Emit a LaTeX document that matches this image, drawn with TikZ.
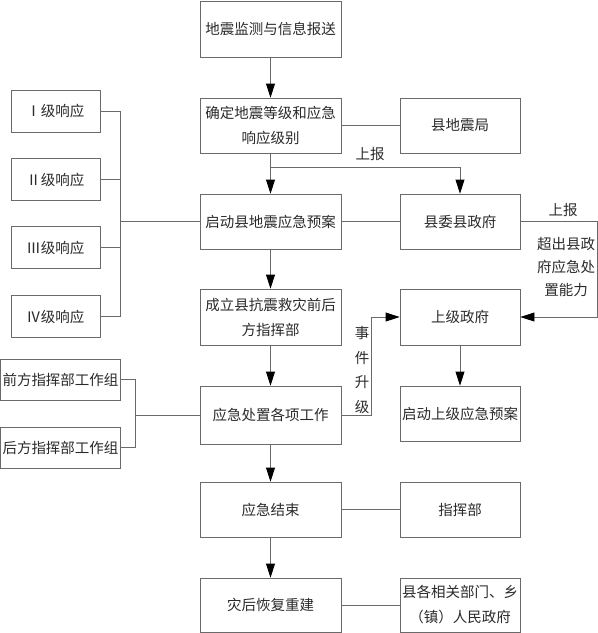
\documentclass[tikz,border=0pt]{standalone}
\usepackage{fontspec}
\setmainfont{Noto Sans CJK SC}
\usetikzlibrary{arrows.meta}
\definecolor{linec}{HTML}{6A6A6A}
\definecolor{textc}{HTML}{2A2A2A}
\tikzset{
  box/.style={draw=linec, line width=0.8pt, rectangle, inner sep=2pt, align=center,
    text=textc, font=\fontsize{14.5}{25}\selectfont},
  mainbox/.style={box, minimum width=141pt, minimum height=55pt},
  sidebox/.style={box, minimum width=120pt, minimum height=55pt},
  lvlbox/.style={box, minimum width=89pt, minimum height=42pt},
  grpbox/.style={box, minimum width=119pt, minimum height=41pt},
  conn/.style={draw=linec, line width=0.8pt},
  arr/.style={conn, -{Triangle[width=9pt,length=14pt,fill=black,color=black]}},
  lbl/.style={text=textc, font=\fontsize{14.5}{23}\selectfont, align=center, inner sep=0pt}
}
\begin{document}
\begin{tikzpicture}[x=1pt,y=-1pt]
\useasboundingbox (0,0) rectangle (598,633);
% main column
\node[mainbox, minimum height=56pt] (b1) at (270.5,29) {地震监测与信息报送};
\node[mainbox] (b2) at (270.5,125.5) {确定地震等级和应急\\响应级别};
\node[mainbox] (b3) at (270.5,221.5) {启动县地震应急预案};
\node[mainbox, minimum height=56pt] (b4) at (270.5,317) {成立县抗震救灾前后\\方指挥部};
\node[mainbox, minimum height=58pt] (b5) at (270.5,415) {应急处置各项工作};
\node[mainbox] (b6) at (270.5,509.5) {应急结束};
\node[mainbox, minimum height=54pt] (b7) at (270.5,605) {灾后恢复重建};
% right column
\node[sidebox] (dzj) at (460,125.5) {县地震局};
\node[sidebox] (xw) at (460,221.5) {县委县政府};
\node[sidebox, minimum height=56pt] (sj) at (460,317) {上级政府};
\node[sidebox] (qdsj) at (460,413.5) {启动上级应急预案};
\node[sidebox] (zhb) at (460,509.5) {指挥部};
\node[sidebox, minimum height=54pt] (xg) at (460,605) {县各相关部门、乡\\（镇）人民政府};
% left levels
\node[lvlbox] (l1) at (55.5,111) {Ⅰ级响应};
\node[lvlbox] (l2) at (55.5,179.5) {Ⅱ级响应};
\node[lvlbox] (l3) at (55.5,247.5) {Ⅲ级响应};
\node[lvlbox] (l4) at (55.5,316.5) {Ⅳ级响应};
% left groups
\node[grpbox] (g1) at (60.5,379.5) {前方指挥部工作组};
\node[grpbox] (g2) at (60.5,447.5) {后方指挥部工作组};
% bracket coordinates
\coordinate (k1) at (120,111);
\coordinate (k4) at (120,316.5);
\coordinate (km) at (120,221.5);
\coordinate (q1) at (135,379.5);
\coordinate (q2) at (135,447.5);
\coordinate (qm) at (135,415);
% main arrows
\draw[arr] (b1) -- (b2);
\draw[arr] (b2) -- (b3);
\draw[arr] (b3) -- (b4);
\draw[arr] (b4) -- (b5);
\draw[arr] (b5) -- (b6);
\draw[arr] (b6) -- (b7);
% side lines
\draw[conn] (b2) -- (dzj);
\draw[conn] (b3) -- (xw);
\draw[conn] (b6) -- (zhb);
\draw[conn] (b7) -- (xg);
\draw[arr] (sj) -- (qdsj);
% report to county government
\coordinate (j1) at (270.5,167);
\draw[arr] (j1) -| (xw.north);
\node[lbl] (t1) at (370,154) {上报};
% county gov to upper gov
\coordinate (r1) at (597,221.5);
\coordinate (r2) at (597,317);
\draw[arr] (xw.east) -- (r1) -- (r2) -- (sj.east);
\node[lbl] (t2) at (563,210) {上报};
\node[lbl] (t3) at (566,267) {超出县政\\府应急处\\置能力};
% event escalation
\coordinate (e1) at (371,415);
\coordinate (e2) at (371,317);
\draw[arr] (b5.east) -- (e1) -- (e2) -- (sj.west);
\node[lbl, font=\fontsize{14.5}{24.5}\selectfont] (t4) at (362,370) {事\\件\\升\\级};
% level bracket
\draw[conn] (l1.east) -- (k1) -- (k4) -- (l4.east);
\draw[conn] (l2.east) -- (l2.east -| k1);
\draw[conn] (l3.east) -- (l3.east -| k1);
\draw[conn] (km) -- (b3.west);
% group bracket
\draw[conn] (g1.east) -- (q1) -- (q2) -- (g2.east);
\draw[conn] (qm) -- (b5.west);
\end{tikzpicture}
\end{document}
